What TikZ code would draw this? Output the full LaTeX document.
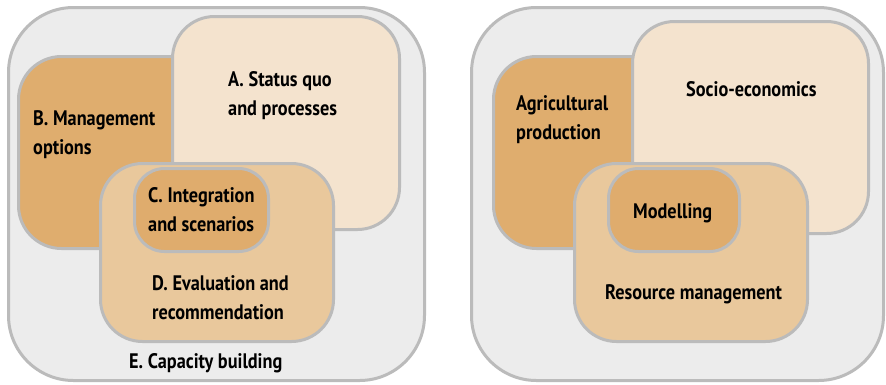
\documentclass[tikz,border=0pt]{standalone}
\usepackage{fontspec}
\setmainfont{PT Sans}[FakeStretch=0.87]
\definecolor{cE}{HTML}{ECECEC}
\definecolor{cLine}{HTML}{BBBBBB}
\definecolor{cA}{HTML}{F4E3CE}
\definecolor{cB}{HTML}{DFAD6E}
\definecolor{cD}{HTML}{E9C89C}
\definecolor{cC}{HTML}{DFAC6D}
\tikzset{
  panelbox/.style={draw=cLine, line width=3pt, rectangle, anchor=north west, inner sep=0pt},
  lbl/.style={font=\bfseries\fontsize{21}{29}\selectfont, align=left, anchor=base west, inner sep=0pt, text=black},
}
\begin{document}
\begin{tikzpicture}[x=1pt,y=-1pt]
\useasboundingbox (0,0) rectangle (886,384);
% left panel
\node[panelbox, fill=cE, rounded corners=65pt, minimum width=416pt, minimum height=373pt] (E) at (7,6) {};
\node[panelbox, fill=cB, rounded corners=43pt, minimum width=200pt, minimum height=192pt] (B) at (17,55) {};
\node[panelbox, fill=cA, rounded corners=42pt, minimum width=227pt, minimum height=213pt] (A) at (171,15) {};
\node[panelbox, fill=cD, rounded corners=42pt, minimum width=233pt, minimum height=178pt] (D) at (99,162) {};
\node[panelbox, fill=cC, rounded corners=30pt, minimum width=134pt, minimum height=83pt] (C) at (133,167) {};
\node[lbl] (tA) at (228,115) {A. Status quo\\and processes};
\node[lbl] (tB) at (33,154) {B. Management\\options};
\node[lbl] (tC) at (148,231) {C. Integration\\and scenarios};
\node[lbl] (tD) at (152,319) {D. Evaluation and\\recommendation};
\node[lbl] (tE) at (129,368) {E. Capacity building};
% right panel
\node[panelbox, fill=cE, rounded corners=65pt, minimum width=412pt, minimum height=373pt] (E2) at (470,6) {};
\node[panelbox, fill=cB, rounded corners=43pt, minimum width=200pt, minimum height=192pt] (AG) at (492,55) {};
\node[panelbox, fill=cA, rounded corners=42pt, minimum width=236pt, minimum height=212pt] (SE) at (631,20) {};
\node[panelbox, fill=cD, rounded corners=42pt, minimum width=233pt, minimum height=178pt] (RM) at (573,162) {};
\node[panelbox, fill=cC, rounded corners=30pt, minimum width=131pt, minimum height=83pt] (MO) at (607,167) {};
\node[lbl] (tSE) at (686,96) {Socio-economics};
\node[lbl] (tAG) at (516,139) {Agricultural\\production};
\node[lbl] (tMO) at (633,218) {Modelling};
\node[lbl] (tRM) at (605,299) {Resource management};
\end{tikzpicture}
\end{document}
